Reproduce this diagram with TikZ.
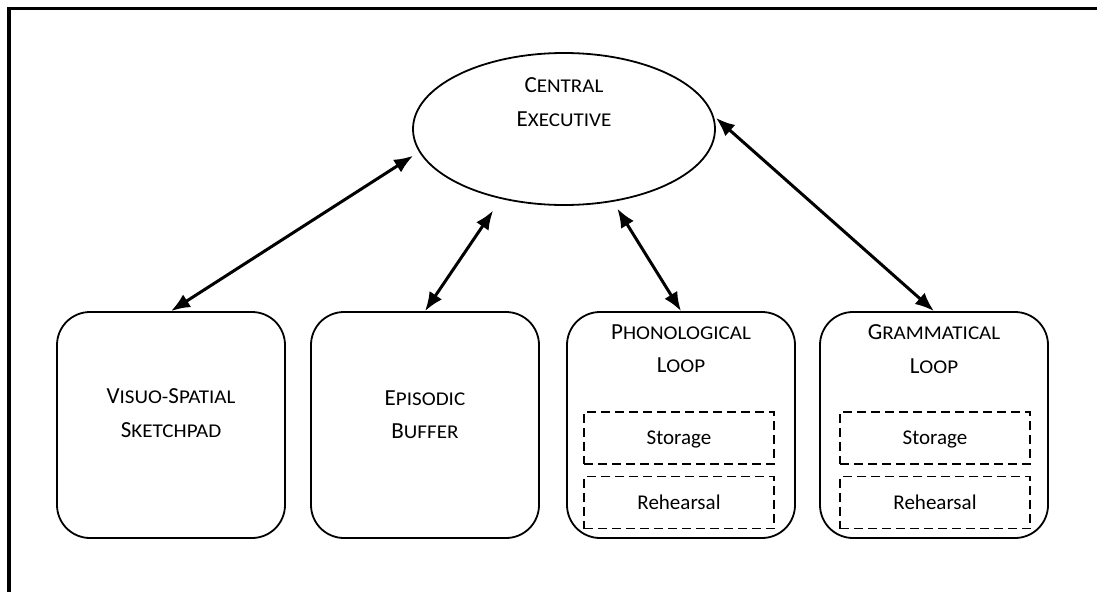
\documentclass[tikz,border=0pt]{standalone}
\usepackage{fontspec}
\setmainfont{Carlito}
\newfontfamily\scfont[FakeStretch=1.08]{Carlito}
\usetikzlibrary{arrows.meta,shapes.geometric}
\newcommand\Sc[2]{{\fontsize{23}{33.5}\selectfont #1}{\scfont\fontsize{19.5}{33.5}\selectfont #2}}
\tikzset{
  module/.style={draw, line width=1.8pt, rounded corners=33pt, minimum width=228pt, minimum height=226pt, inner sep=0pt},
  sub/.style={draw, dashed, dash pattern=on 9pt off 5pt, line width=1.6pt, minimum width=190pt, minimum height=52pt, inner sep=0pt,
    font=\fontsize{21}{25}\selectfont, text height=13.5pt, text depth=0pt},
  title/.style={align=center, inner sep=0pt, font=\fontsize{23}{33.5}\selectfont, text height=14.5pt, text depth=0pt},
  arr/.style={line width=3pt, {Latex[length=19pt,width=15pt]}-{Latex[length=19pt,width=15pt]}},
}
\begin{document}
\begin{tikzpicture}[x=1pt,y=-1pt]
\useasboundingbox (0,0) rectangle (1097,592);
\draw[line width=3.5pt] (9,592) -- (9,8.5) -- (1097,8.5);
% central executive
\node[draw, ellipse, line width=1.8pt, minimum width=302pt, minimum height=152pt, inner sep=0pt] (ce) at (564,129) {};
\node[title] (cet) at (564,119) {\Sc{C}{ENTRAL}\\\Sc{E}{XECUTIVE}};
% modules
\node[module] (vs) at (171,425) {};
\node[title] (vst) at (171,430) {\Sc{V}{ISUO-}\Sc{S}{PATIAL}\\\Sc{S}{KETCHPAD}};
\node[module] (eb) at (425,425) {};
\node[title] (ebt) at (425,431.5) {\Sc{E}{PISODIC}\\\Sc{B}{UFFER}};
\node[module] (pl) at (681,425) {};
\node[title] (plt) at (681,365.5) {\Sc{P}{HONOLOGICAL}\\\Sc{L}{OOP}};
\node[sub] (pls) at (679,438) {Storage};
\node[sub] (plr) at (679,502.5) {Rehearsal};
\node[module] (gl) at (934,425) {};
\node[title] (glt) at (934,366) {\Sc{G}{RAMMATICAL}\\\Sc{L}{OOP}};
\node[sub] (gls) at (935,438) {Storage};
\node[sub] (glr) at (935,502.5) {Rehearsal};
% arrows
\draw[arr, shorten >=7pt] (vs.north) -- (ce.189);
\draw[arr, shorten >=14pt] (eb.north) -- (ce.228);
\draw[arr, shorten >=8pt] (pl.north) -- (ce.304);
\draw[arr, shorten >=3pt] (gl.north) -- (ce.5);
\end{tikzpicture}
\end{document}
